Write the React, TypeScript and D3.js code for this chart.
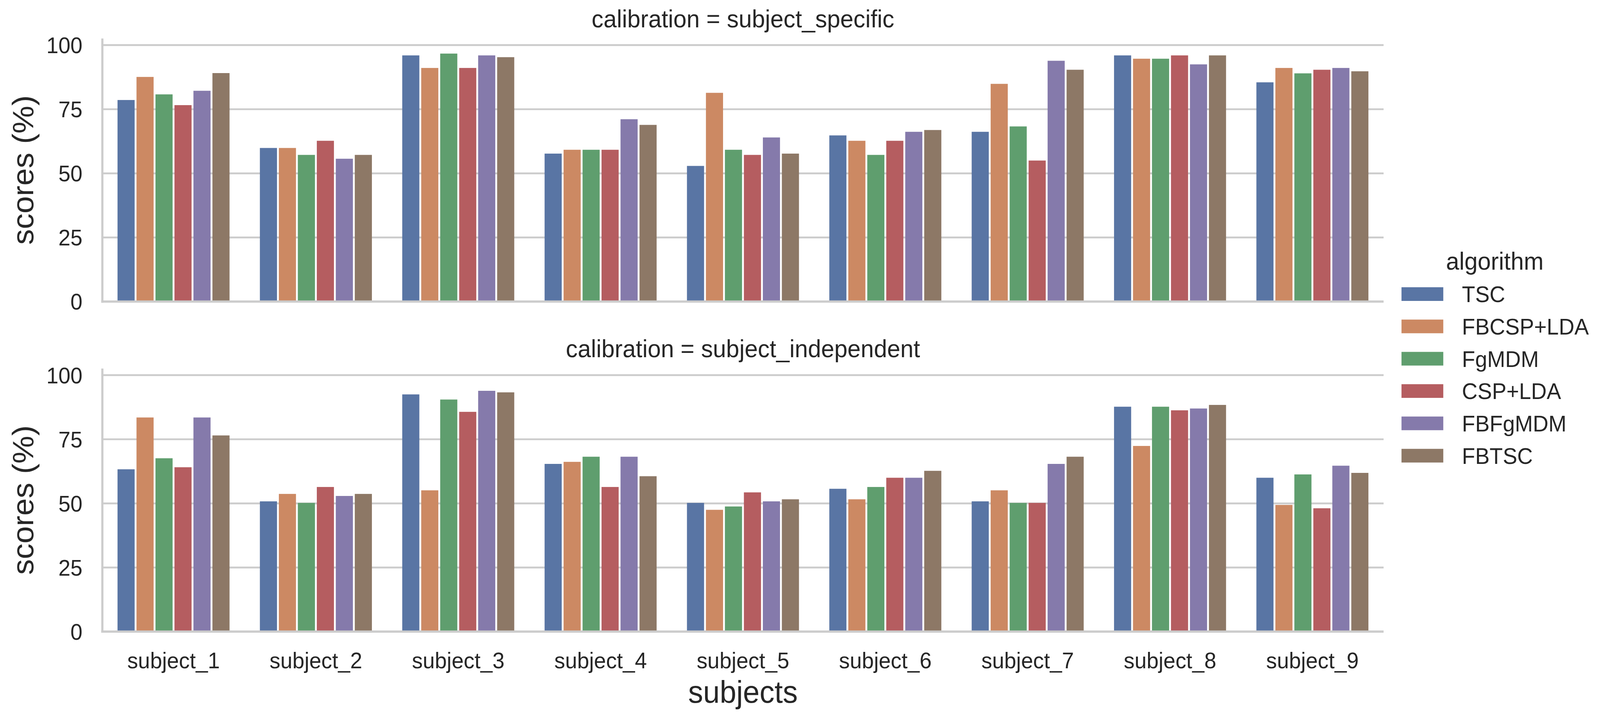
import React, { useEffect } from "react";
import * as d3 from "d3";

const subjects = ["subject_1", "subject_2", "subject_3", "subject_4", "subject_5", "subject_6", "subject_7", "subject_8", "subject_9"];
const algorithms = ["TSC", "FBCSP+LDA", "FgMDM", "CSP+LDA", "FBFgMDM", "FBTSC"];
const colors = ["#5975a4", "#cc8963", "#5f9e6e", "#b55d60", "#857aab", "#8d7866"];
const yTicks = [0, 25, 50, 75, 100];

const specificTSC = [78.6, 59.9, 96.0, 57.7, 52.9, 64.8, 66.2, 96.0, 85.5];
const specificFBCSP = [87.6, 59.9, 91.1, 59.2, 81.4, 62.7, 84.9, 94.7, 91.1];
const specificFgMDM = [80.8, 57.2, 96.7, 59.2, 59.2, 57.2, 68.3, 94.7, 89.0];
const specificCSP = [76.6, 62.7, 91.1, 59.2, 57.2, 62.7, 55.0, 96.0, 90.4];
const specificFBFgMDM = [82.2, 55.7, 96.0, 71.1, 64.0, 66.2, 93.9, 92.5, 91.1];
const specificFBTSC = [89.1, 57.2, 95.3, 68.9, 57.7, 66.9, 90.4, 96.0, 89.8];

const indepTSC = [63.3, 50.8, 92.5, 65.4, 50.2, 55.7, 50.8, 87.7, 60.0];
const indepFBCSP = [83.5, 53.7, 55.1, 66.2, 47.5, 51.6, 55.1, 72.4, 49.4];
const indepFgMDM = [67.6, 50.2, 90.5, 68.2, 48.8, 56.4, 50.2, 87.7, 61.3];
const indepCSP = [64.1, 56.4, 85.7, 56.4, 54.3, 60.0, 50.2, 86.3, 48.1];
const indepFBFgMDM = [83.5, 52.9, 93.9, 68.2, 50.8, 60.0, 65.4, 87.0, 64.7];
const indepFBTSC = [76.5, 53.7, 93.3, 60.6, 51.6, 62.7, 68.2, 88.4, 61.9];

const panels = [
  { title: "calibration = subject_specific", series: [specificTSC, specificFBCSP, specificFgMDM, specificCSP, specificFBFgMDM, specificFBTSC] },
  { title: "calibration = subject_independent", series: [indepTSC, indepFBCSP, indepFgMDM, indepCSP, indepFBFgMDM, indepFBTSC] },
];

const W = 4288;
const H = 1850;
const FONT = "'Liberation Sans', Arial, Helvetica, sans-serif";
const TXT = "#262626";
const GRID = "#cccccc";
const left = 274.3;
const right = 3708;
const panelOffset = 844.5;
const yMax = 102.6;

export default function App() {
  useEffect(() => {
    document.body.style.margin = "0";
    document.body.style.overflow = "hidden";
  }, []);

  const x = d3.scaleBand<string>().domain(subjects).range([left, right]).paddingInner(0).paddingOuter(0);
  const groupW = x.bandwidth() * 0.8;
  const inner = d3.scaleBand<string>().domain(algorithms).range([-groupW / 2, groupW / 2]);
  const inset = 2.5;

  return (
    <svg
      viewBox={`0 0 ${W} ${H}`}
      preserveAspectRatio="none"
      style={{ position: "absolute", left: 0, top: 0, width: "100vw", height: "100vh", display: "block", background: "#fff" }}
      fontFamily={FONT}
    >
      <rect x={0} y={0} width={W} height={H} fill="#fff" />
      {panels.map((p, pi) => {
        const off = pi * panelOffset;
        const y = d3.scaleLinear().domain([0, yMax]).range([771.7 + off, 98.4 + off]);
        const midY = (y(0) + y(yMax)) / 2;
        return (
          <g key={pi}>
            {yTicks.map((t) => (
              <line key={"g" + t} x1={left} x2={right} y1={y(t)} y2={y(t)} stroke={GRID} strokeWidth={4.7} />
            ))}
            {p.series.map((vals, ai) =>
              vals.map((v, si) => (
                <rect
                  key={ai + "-" + si}
                  x={(x(subjects[si]) as number) + x.bandwidth() / 2 + (inner(algorithms[ai]) as number) + inset}
                  y={y(v)}
                  width={inner.bandwidth() - 2 * inset}
                  height={y(0) - y(v)}
                  fill={colors[ai]}
                />
              ))
            )}
            <line x1={left} x2={left} y1={y(yMax)} y2={y(0) + 2.9} stroke={GRID} strokeWidth={5.8} />
            <line x1={left - 2.9} x2={right} y1={y(0)} y2={y(0)} stroke={GRID} strokeWidth={5.8} />
            {yTicks.map((t) => (
              <text key={"t" + t} x={221} y={y(t) + 0.358 * 58} fontSize={58} fill={TXT} textAnchor="end">
                {t}
              </text>
            ))}
            <text
              transform={`translate(89.5,${midY}) rotate(-90)`}
              fontSize={80}
              fill={TXT}
              textAnchor="middle"
            >
              scores (%)
            </text>
            <text x={(left + right) / 2} y={70 + off} fontSize={63.6} fill={TXT} textAnchor="middle">
              {p.title}
            </text>
          </g>
        );
      })}
      {subjects.map((s) => (
        <text key={s} x={(x(s) as number) + x.bandwidth() / 2} y={1710} fontSize={58} fill={TXT} textAnchor="middle">
          {s}
        </text>
      ))}
      <text x={(left + right) / 2} y={1798} fontSize={80} fill={TXT} textAnchor="middle">
        subjects
      </text>
      <g>
        <text x={4006} y={690} fontSize={63.6} fill={TXT} textAnchor="middle">
          algorithm
        </text>
        {algorithms.map((a, i) => {
          const cy = 752.5 + i * 82.7;
          return (
            <g key={a}>
              <rect x={3756} y={cy - 17.5} width={112} height={35} fill={colors[i]} />
              <text x={3918} y={cy + 0.358 * 58} fontSize={58} fill={TXT}>
                {a}
              </text>
            </g>
          );
        })}
      </g>
    </svg>
  );
}
